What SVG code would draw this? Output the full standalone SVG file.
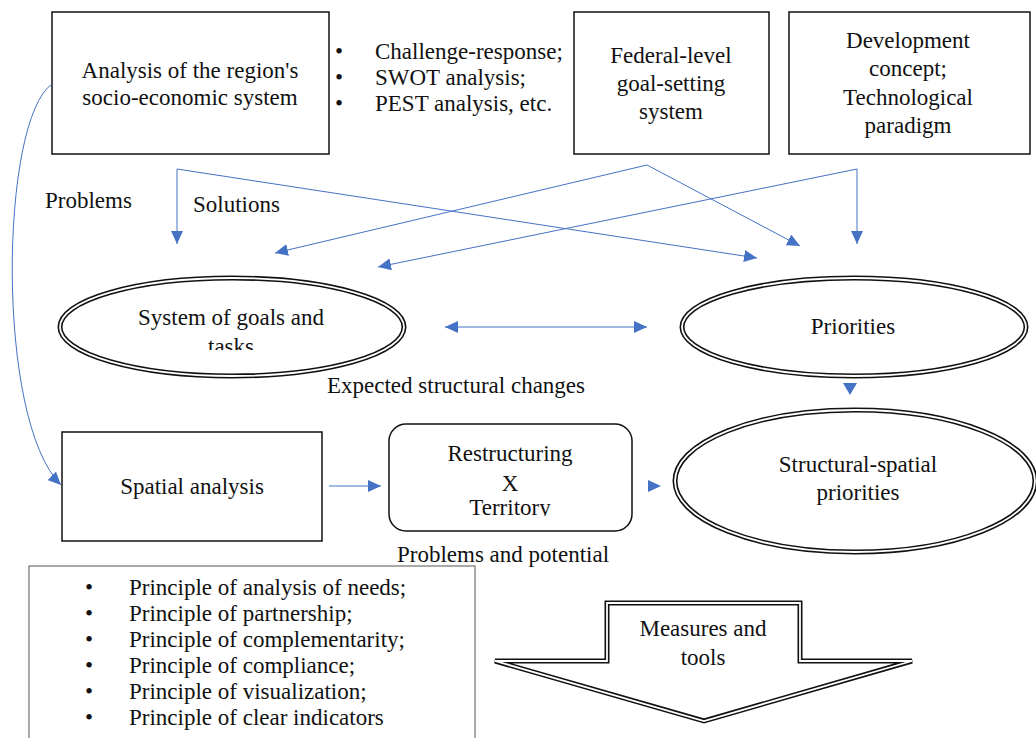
<svg xmlns="http://www.w3.org/2000/svg" width="1036" height="738" viewBox="0 0 1036 738">
<style>
text{font-family:"Liberation Serif","Times New Roman",serif;font-size:23px;fill:#111}
.c{text-anchor:middle}
.box{fill:#fff;stroke:#111;stroke-width:1.5}
.dbl{fill:#fff;stroke:#111;stroke-width:5}
.dbl2{fill:none;stroke:#fff;stroke-width:1.8}
.con{fill:none;stroke:#4472C4;stroke-width:1}
.ah{fill:#4472C4}
</style>
<defs>
<marker id="arr" markerUnits="userSpaceOnUse" markerWidth="14" markerHeight="12" refX="13" refY="6" orient="auto-start-reverse" viewBox="0 0 14 12">
<path d="M0,0 L13,6 L0,12 Z" fill="#4472C4"/>
</marker>
<clipPath id="clipGoals"><rect x="60" y="280" width="340" height="70"/></clipPath>
<clipPath id="clipRestr"><rect x="390" y="426" width="240" height="90"/></clipPath>
</defs>

<g id="analysis">
<rect class="box" x="52" y="12" width="277" height="142"/>
<text class="c" x="190" y="78">Analysis of the region's</text>
<text class="c" x="190" y="105">socio-economic system</text>
</g>

<g id="methods">
<text x="335" y="59">•</text><text x="375" y="59">Challenge-response;</text>
<text x="335" y="85">•</text><text x="375" y="85">SWOT analysis;</text>
<text x="335" y="111">•</text><text x="375" y="111">PEST analysis, etc.</text>
</g>

<g id="federal">
<rect class="box" x="574" y="12" width="195" height="142"/>
<text class="c" x="671" y="63">Federal-level</text>
<text class="c" x="671" y="91">goal-setting</text>
<text class="c" x="671" y="119">system</text>
</g>

<g id="development">
<rect class="box" x="789" y="12" width="241" height="142"/>
<text class="c" x="908" y="48">Development</text>
<text class="c" x="908" y="76">concept;</text>
<text class="c" x="908" y="105">Technological</text>
<text class="c" x="908" y="133">paradigm</text>
</g>

<g id="goals">
<ellipse class="dbl" cx="232" cy="327" rx="172" ry="49"/>
<ellipse class="dbl2" cx="232" cy="327" rx="172" ry="49"/>
<g clip-path="url(#clipGoals)">
<text class="c" x="231" y="325">System of goals and</text>
<text class="c" x="231" y="354">tasks</text>
</g>
</g>

<g id="priorities">
<ellipse class="dbl" cx="854" cy="327" rx="172" ry="49"/>
<ellipse class="dbl2" cx="854" cy="327" rx="172" ry="49"/>
<text class="c" x="853" y="334">Priorities</text>
</g>

<g id="spatial">
<rect class="box" x="62" y="432" width="260" height="109"/>
<text class="c" x="192" y="494">Spatial analysis</text>
</g>

<g id="restructuring">
<rect class="box" x="389" y="424" width="243" height="107" rx="17" ry="17"/>
<g clip-path="url(#clipRestr)">
<text class="c" x="510" y="461">Restructuring</text>
<text class="c" x="510" y="491">X</text>
<text class="c" x="510" y="515">Territory</text>
</g>
</g>

<g id="structural">
<ellipse class="dbl" cx="855" cy="481" rx="180" ry="71"/>
<ellipse class="dbl2" cx="855" cy="481" rx="180" ry="71"/>
<text class="c" x="858" y="472">Structural-spatial</text>
<text class="c" x="858" y="500">priorities</text>
</g>

<g id="principles">
<rect x="29" y="566" width="446" height="180" fill="#fff" stroke="#555" stroke-width="1"/>
<text x="85" y="595">•</text><text x="129" y="595">Principle of analysis of needs;</text>
<text x="85" y="621">•</text><text x="129" y="621">Principle of partnership;</text>
<text x="85" y="647">•</text><text x="129" y="647">Principle of complementarity;</text>
<text x="85" y="673">•</text><text x="129" y="673">Principle of compliance;</text>
<text x="85" y="699">•</text><text x="129" y="699">Principle of visualization;</text>
<text x="85" y="725">•</text><text x="129" y="725">Principle of clear indicators</text>
</g>

<g id="measures">
<path class="dbl" d="M607,603 L800,603 L800,661 L912,661 L704,721 L495,661 L607,661 Z"/>
<path class="dbl2" d="M607,603 L800,603 L800,661 L912,661 L704,721 L495,661 L607,661 Z"/>
<text class="c" x="703" y="636">Measures and</text>
<text class="c" x="703" y="665">tools</text>
</g>

<g id="labels">
<text x="45" y="208">Problems</text>
<text x="193" y="212">Solutions</text>
<text x="327" y="393">Expected structural changes</text>
<text class="c" x="503" y="562">Problems and potential</text>
</g>

<g id="connectors">
<path class="con" d="M52,84 C0,120 -5,420 61,485" marker-end="url(#arr)"/>
<path class="con" d="M177,169 L177,244" marker-end="url(#arr)"/>
<path class="con" d="M177,169 L757,258" marker-end="url(#arr)"/>
<path class="con" d="M647,165 L275,253" marker-end="url(#arr)"/>
<path class="con" d="M647,165 L800,246" marker-end="url(#arr)"/>
<path class="con" d="M857,169 L857,244" marker-end="url(#arr)"/>
<path class="con" d="M857,169 L378,267" marker-end="url(#arr)"/>
<path class="con" d="M445,327 L647,327" marker-start="url(#arr)" marker-end="url(#arr)"/>
<path class="con" d="M329,486 L381,486" marker-end="url(#arr)"/>
<polygon class="ah" points="843,383 857,383 850,395"/>
<polygon class="ah" points="648,480 661,486 648,492"/>
</g>
</svg>
